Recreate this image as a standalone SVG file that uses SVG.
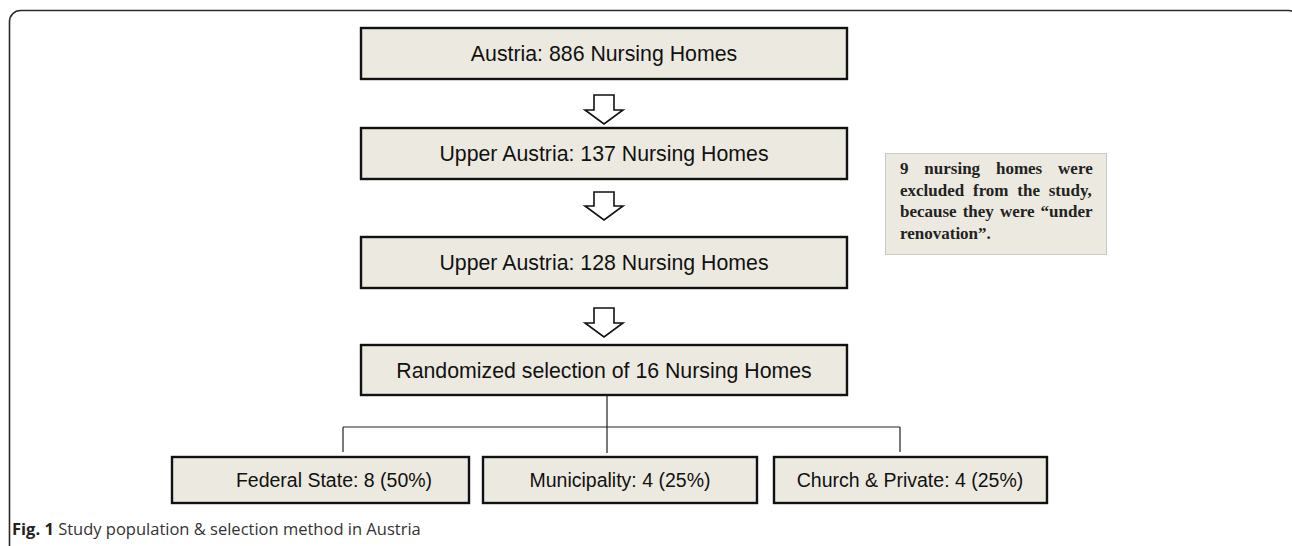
<svg xmlns="http://www.w3.org/2000/svg" width="1292" height="546" viewBox="0 0 1292 546">
  <style>
    .box { fill: #ECEAE0; stroke: #111; stroke-width: 2.4; }
    .t { font-family: "Liberation Sans", Arial, sans-serif; font-size: 21.3px; fill: #111; text-anchor: middle; }
    .tb { font-family: "Liberation Sans", Arial, sans-serif; font-size: 19.5px; fill: #111; text-anchor: middle; }
    .arrow { fill: #fff; stroke: #111; stroke-width: 1.6; stroke-linejoin: miter; }
    .conn { fill: none; stroke: #222; stroke-width: 1.2; }
    .note { fill: #ECEAE0; stroke: #c8c8c4; stroke-width: 1; }
    .nt { font-family: "Liberation Serif", "Times New Roman", serif; font-size: 17px; font-weight: bold; fill: #222; }
    .cap { font-family: "Open Sans", "Noto Sans", sans-serif; font-size: 16.5px; fill: #333; }
  </style>
  <rect width="1292" height="546" fill="#fff"/>
  <rect id="frame" x="9.5" y="10.5" width="1290" height="560" rx="11" ry="11" fill="none" stroke="#2a2a2a" stroke-width="1.6"/>

  <g id="n1">
    <rect class="box" x="361" y="28" width="486" height="51"/>
    <text class="t" x="604" y="61">Austria: 886 Nursing Homes</text>
  </g>
  <g id="n2">
    <rect class="box" x="361" y="128" width="486" height="51"/>
    <text class="t" x="604" y="161">Upper Austria: 137 Nursing Homes</text>
  </g>
  <g id="n3">
    <rect class="box" x="361" y="237" width="486" height="51"/>
    <text class="t" x="604" y="270">Upper Austria: 128 Nursing Homes</text>
  </g>
  <g id="n4">
    <rect class="box" x="361" y="345" width="486" height="50"/>
    <text class="t" x="604" y="377.5">Randomized selection of 16 Nursing Homes</text>
  </g>
  <g id="note">
    <rect class="note" x="885.5" y="153.5" width="221" height="101"/>
    <text class="nt" x="900" y="174" word-spacing="11.6">9 nursing homes were</text>
    <text class="nt" x="900" y="195.5" word-spacing="4.5">excluded from the study,</text>
    <text class="nt" x="900" y="217" word-spacing="1.8">because they were “under</text>
    <text class="nt" x="900" y="238.5">renovation”.</text>
  </g>
  <g id="n5">
    <rect class="box" x="172" y="457" width="297" height="46"/>
    <text class="tb" x="334" y="487">Federal State: 8 (50%)</text>
  </g>
  <g id="n6">
    <rect class="box" x="483" y="457" width="274" height="46"/>
    <text class="tb" x="620" y="487">Municipality: 4 (25%)</text>
  </g>
  <g id="n7">
    <rect class="box" x="774" y="457" width="273" height="46"/>
    <text class="tb" x="910" y="487">Church &amp; Private: 4 (25%)</text>
  </g>

  <g id="connectors">
    <path class="arrow" d="M594,95 H614 V110 H623 L604,124 L585,110 H594 Z"/>
    <path class="arrow" d="M594,192 H614 V206 H623 L604,220 L585,206 H594 Z"/>
    <path class="arrow" d="M594,308 H614 V323 H623 L604,337 L585,323 H594 Z"/>
    <path class="conn" d="M607,395 V453 M343,427 H900 M343,427 V452 M900,427 V452"/>
  </g>

  <text class="cap" x="12" y="535"><tspan font-weight="bold" fill="#222">Fig. 1</tspan> Study population &amp; selection method in Austria</text>
</svg>
